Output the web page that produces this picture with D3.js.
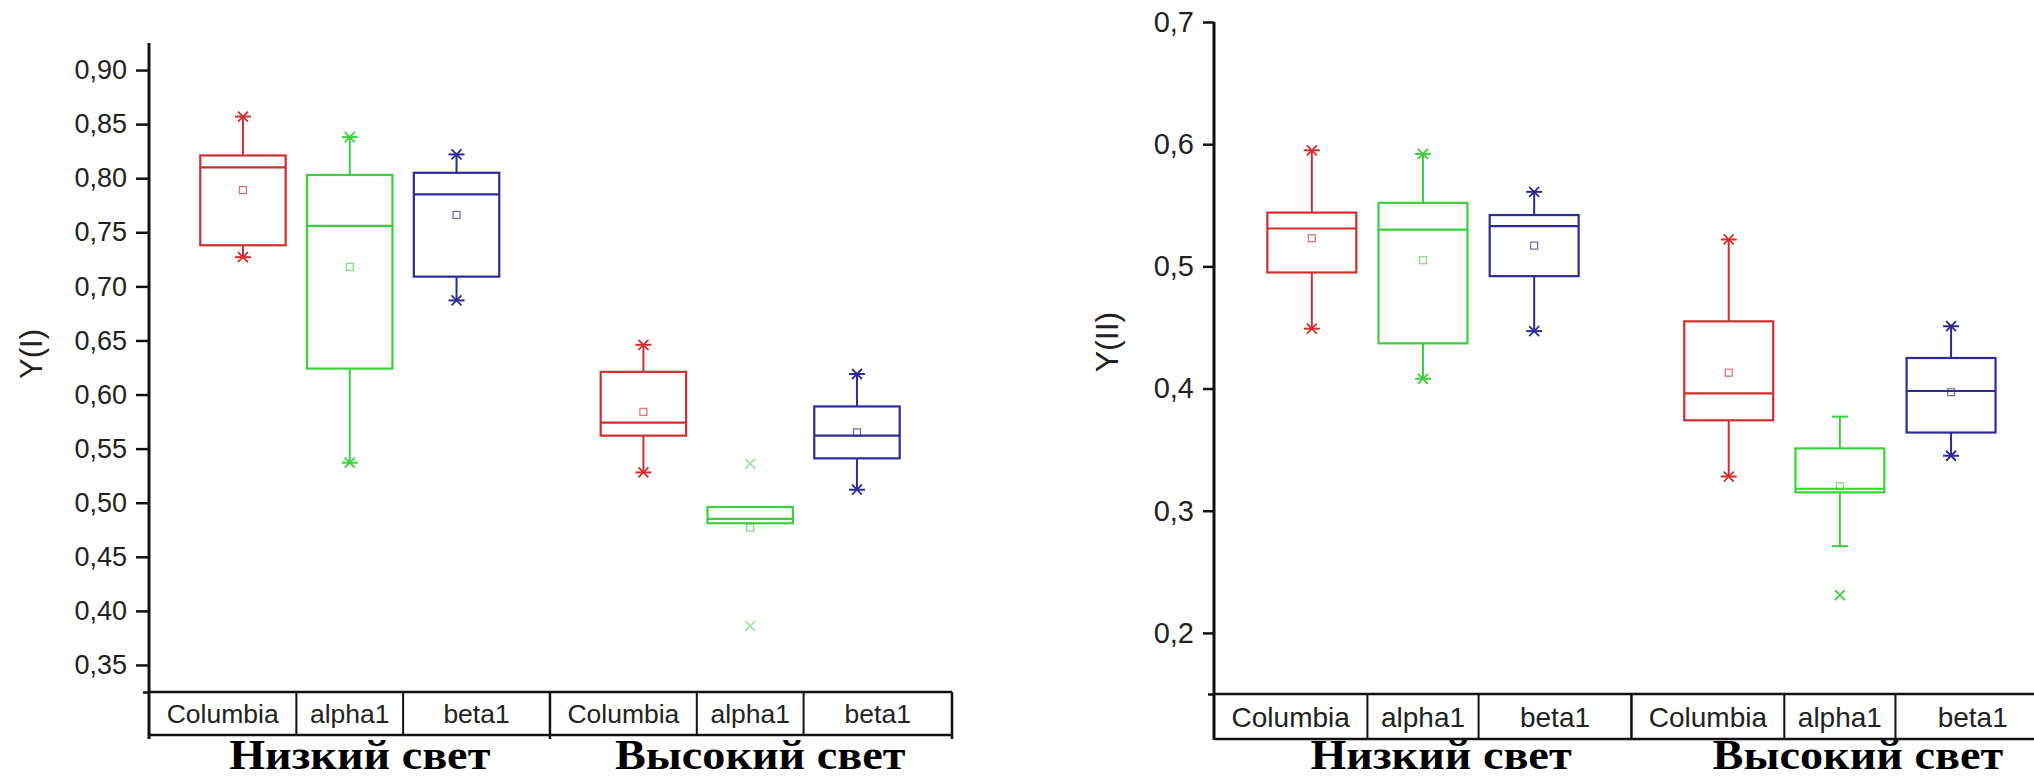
<!DOCTYPE html>
<html lang="ru">
<head>
<meta charset="utf-8">
<title>Y(I), Y(II)</title>
<script src="https://cdnjs.cloudflare.com/ajax/libs/d3/7.8.5/d3.min.js"></script>
<style>
  body { margin: 0; background: #fff; }
  svg { display: block; }
  .tick text { fill: #222; }
</style>
</head>
<body>
<div id="chart"></div>
<script>
// categories
const groups = ["Низкий свет", "Высокий свет"];
const genotypes = ["Columbia", "alpha1", "beta1"];

// Y(I): one value per box, order Columbia, alpha1, beta1 for low light then high light
const y1Low    = [0.727, 0.537, 0.687, 0.528, null,  0.512];
const y1Q1     = [0.738, 0.624, 0.709, 0.562, 0.481, 0.541];
const y1Median = [0.810, 0.756, 0.785, 0.574, 0.485, 0.562];
const y1Q3     = [0.821, 0.803, 0.805, 0.621, 0.496, 0.589];
const y1High   = [0.857, 0.838, 0.822, 0.646, null,  0.619];
const y1Mean   = [0.789, 0.718, 0.766, 0.584, 0.477, 0.565];
const y1Cross  = [[0.857, 0.727], [0.838, 0.537], [0.822, 0.687], [0.646, 0.528], [0.536, 0.386], [0.619, 0.512]];
const y1Ticks  = [0.35, 0.40, 0.45, 0.50, 0.55, 0.60, 0.65, 0.70, 0.75, 0.80, 0.85, 0.90];

// Y(II)
const y2Low    = [0.449, 0.408, 0.447, 0.328, 0.271, 0.345];
const y2Q1     = [0.495, 0.437, 0.492, 0.374, 0.315, 0.364];
const y2Median = [0.531, 0.530, 0.533, 0.396, 0.318, 0.398];
const y2Q3     = [0.544, 0.552, 0.542, 0.455, 0.351, 0.425];
const y2High   = [0.595, 0.592, 0.561, 0.522, 0.377, 0.451];
const y2Mean   = [0.523, 0.505, 0.517, 0.413, 0.320, 0.397];
const y2Cross  = [[0.595, 0.449], [0.592, 0.408], [0.561, 0.447], [0.522, 0.328], [0.231], [0.451, 0.345]];
const y2Ticks  = [0.2, 0.3, 0.4, 0.5, 0.6, 0.7];

const colors = { Columbia: "#d02f2f", alpha1: "#3bd03b", beta1: "#2c2c96" };
const groupGap = 0.75;

const width = 2034, height = 778;
const svg = d3.select("#chart").append("svg")
    .attr("width", width)
    .attr("height", height);

const ru = d3.formatLocale({ decimal: ",", thousands: " ", grouping: [3], currency: ["", ""] });

// build box rows for a panel
function rows(low, q1, med, q3, high, mean, cross) {
  const out = [];
  groups.forEach((g, gi) => {
    genotypes.forEach((c, ci) => {
      const i = gi * genotypes.length + ci;
      out.push({ group: g, cat: c, pos: gi * (genotypes.length + groupGap) + ci + 1,
        low: low[i], q1: q1[i], med: med[i], q3: q3[i], high: high[i], mean: mean[i], cross: cross[i] });
    });
  });
  return out;
}

function panel(p, data) {
  const x = d3.scaleLinear().domain([0.12, 7.64]).range([p.x0, p.x1]);
  const y = d3.scaleLinear().domain(p.domain).range([p.yBot, p.yTop]);
  const g = svg.append("g");
  const bw = (x(1.8) - x(1));

  // minor ticks
  const minor = d3.range(p.domain[0], p.domain[1] + 1e-9, p.step).map(v => +(v + p.step / 2).toFixed(4))
      .filter(v => v <= p.domain[1] + 1e-9);
  minor.unshift(p.domain[0]);
  g.append("g")
      .attr("transform", `translate(${p.x0},0)`)
      .call(d3.axisLeft(y).tickValues(minor.filter(v => !p.ticks.some(t => Math.abs(t - v) < 1e-6)))
        .tickSize(p.minorLen).tickFormat(""))
      .call(a => a.select(".domain").remove())
      .call(a => a.selectAll("line").attr("stroke", "#111").attr("stroke-width", 2.5));

  // major ticks
  g.append("g")
      .attr("transform", `translate(${p.x0},0)`)
      .call(d3.axisLeft(y).tickValues(p.ticks).tickSize(p.tickLen).tickPadding(9)
        .tickFormat(ru.format(p.fmt)))
      .call(a => a.select(".domain").remove())
      .call(a => a.selectAll("line").attr("stroke", "#111").attr("stroke-width", 2.5))
      .call(a => a.selectAll("text")
        .attr("font-family", "'Liberation Sans', Arial, sans-serif")
        .attr("font-size", p.fontSize));

  // axis line, down through the label table
  g.append("line")
      .attr("x1", p.x0).attr("x2", p.x0)
      .attr("y1", p.yTop).attr("y2", p.axisBot)
      .attr("stroke", "#111").attr("stroke-width", 3);

  // label table
  g.append("line").attr("x1", p.x0).attr("x2", p.x1).attr("y1", p.yBot).attr("y2", p.yBot)
      .attr("stroke", "#111").attr("stroke-width", 2.5);
  g.append("line").attr("x1", p.x0).attr("x2", p.x1).attr("y1", p.tableBot).attr("y2", p.tableBot)
      .attr("stroke", "#111").attr("stroke-width", 2.5);
  data.forEach((d, i) => {
    const next = data[i + 1];
    const right = next ? x((d.pos + next.pos) / 2) : p.x1;
    const groupEnd = !next || next.group !== d.group;
    g.append("line")
        .attr("x1", right).attr("x2", right)
        .attr("y1", p.yBot).attr("y2", groupEnd ? p.axisBot : p.tableBot)
        .attr("stroke", "#111").attr("stroke-width", groupEnd ? 2.5 : 2);
  });
  g.selectAll("text.cat").data(data).join("text")
      .attr("class", "cat")
      .attr("x", d => {
        const i = data.indexOf(d);
        const left = i === 0 ? p.x0 : x((d.pos + data[i - 1].pos) / 2);
        const right = i === data.length - 1 ? p.x1 : x((d.pos + data[i + 1].pos) / 2);
        return (left + right) / 2;
      })
      .attr("y", (p.yBot + p.tableBot) / 2)
      .attr("dy", "0.36em")
      .attr("text-anchor", "middle")
      .attr("font-family", "'Liberation Sans', Arial, sans-serif")
      .attr("font-size", p.catSize)
      .attr("fill", "#222")
      .text(d => d.cat);

  // group titles (a little wider than the font gives, as in the source)
  groups.forEach((gr, gi) => {
    const mid = d3.mean(data.filter(d => d.group === gr), d => d.pos);
    const t = g.append("text")
        .attr("x", x(mid) + p.titleShift)
        .attr("y", p.titleY)
        .attr("text-anchor", "middle")
        .attr("font-family", "'Liberation Serif', 'Times New Roman', serif")
        .attr("font-weight", "bold")
        .attr("font-size", 42)
        .attr("fill", "#000")
        .text(gr);
    const w = t.node().getComputedTextLength();
    t.attr("textLength", w * 1.1).attr("lengthAdjust", "spacingAndGlyphs");
  });

  // y label
  g.append("text")
      .attr("transform", `translate(${p.labelX},${p.labelY}) rotate(-90)`)
      .attr("text-anchor", "middle")
      .attr("dy", "0.35em")
      .attr("font-family", "'Liberation Sans', Arial, sans-serif")
      .attr("font-size", p.labelSize)
      .attr("fill", "#222")
      .text(p.label);

  // boxes
  const box = g.selectAll("g.box").data(data).join("g").attr("class", "box")
      .attr("stroke", d => colors[d.cat]).attr("fill", "none");

  box.filter(d => d.high != null).append("line")
      .attr("x1", d => x(d.pos)).attr("x2", d => x(d.pos))
      .attr("y1", d => y(d.q3)).attr("y2", d => y(d.high)).attr("stroke-width", 2);
  box.filter(d => d.low != null).append("line")
      .attr("x1", d => x(d.pos)).attr("x2", d => x(d.pos))
      .attr("y1", d => y(d.q1)).attr("y2", d => y(d.low)).attr("stroke-width", 2);
  // min/max dashes and the x marks
  box.each(function(d) {
    const s = d3.select(this);
    [d.low, d.high].filter(v => v != null).forEach(v => {
      s.append("line")
          .attr("x1", x(d.pos) - 8).attr("x2", x(d.pos) + 8)
          .attr("y1", y(v)).attr("y2", y(v)).attr("stroke-width", 2);
    });
    (d.cross || []).forEach(v => {
      const cx = x(d.pos), cy = y(v), r = 5;
      s.append("path")
          .attr("d", `M${cx - r},${cy - r}L${cx + r},${cy + r}M${cx - r},${cy + r}L${cx + r},${cy - r}`)
          .attr("stroke-width", d.low == null ? 1.3 : 1.8)
          .attr("stroke-opacity", d.low == null ? 0.6 : 1);
    });
  });

  box.append("rect")
      .attr("x", d => x(d.pos) - bw / 2)
      .attr("width", bw)
      .attr("y", d => y(d.q3))
      .attr("height", d => y(d.q1) - y(d.q3))
      .attr("stroke-width", 2.2);
  box.append("line")
      .attr("x1", d => x(d.pos) - bw / 2).attr("x2", d => x(d.pos) + bw / 2)
      .attr("y1", d => y(d.med)).attr("y2", d => y(d.med))
      .attr("stroke-width", 2.2);
  box.append("rect")
      .attr("x", d => x(d.pos) - 3.5).attr("y", d => y(d.mean) - 3.5)
      .attr("width", 7).attr("height", 7)
      .attr("stroke-width", 1.2)
      .attr("stroke-opacity", 0.7);
}

panel({ x0: 149, x1: 952, yTop: 43, yBot: 692, tableBot: 735, axisBot: 739,
        domain: [0.325, 0.925], step: 0.05, ticks: y1Ticks, fmt: ".2f",
        fontSize: 27, tickLen: 13, minorLen: 6, catSize: 26.5,
        titleY: 769, titleShift: 10,
        label: "Y(I)", labelX: 31, labelY: 354, labelSize: 31 },
      rows(y1Low, y1Q1, y1Median, y1Q3, y1High, y1Mean, y1Cross));

panel({ x0: 1214, x1: 2050, yTop: 22, yBot: 694, tableBot: 739, axisBot: 740,
        domain: [0.15, 0.70], step: 0.1, ticks: y2Ticks, fmt: ".1f",
        fontSize: 29, tickLen: 11, minorLen: 6, catSize: 28,
        titleY: 769, titleShift: 18,
        label: "Y(II)", labelX: 1107, labelY: 342, labelSize: 32 },
      rows(y2Low, y2Q1, y2Median, y2Q3, y2High, y2Mean, y2Cross));
</script>
</body>
</html>
